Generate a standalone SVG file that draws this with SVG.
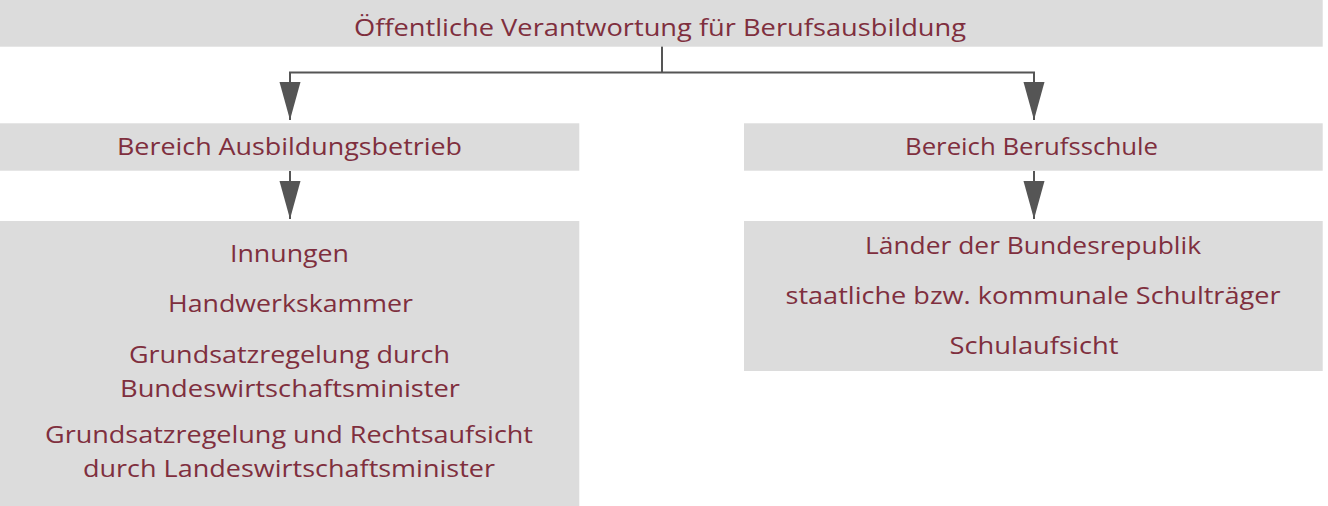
<svg xmlns="http://www.w3.org/2000/svg" width="1328" height="506" viewBox="0 0 1328 506">
<style>
.box{fill:#dcdcdc}
.t{font-family:"Open Sans","Liberation Sans",sans-serif;font-size:24.5px;fill:#7f2f3e;text-anchor:middle}
.c{fill:none;stroke:#555555;stroke-width:2}
</style>
<defs>
<marker id="ah" markerUnits="userSpaceOnUse" markerWidth="40" markerHeight="22" refX="38" refY="10.5" orient="auto">
<path d="M0,0 L38,10.5 L0,21 z" fill="#555555"/>
</marker>
</defs>
<rect width="1328" height="506" fill="#ffffff"/>
<g id="connectors">
<path class="c" d="M662,46 V72.5"/>
<path class="c" d="M662,72.5 H290 V120" marker-end="url(#ah)"/>
<path class="c" d="M662,72.5 H1034 V120" marker-end="url(#ah)"/>
<path class="c" d="M290,171 V219" marker-end="url(#ah)"/>
<path class="c" d="M1034,171 V219" marker-end="url(#ah)"/>
</g>
<g id="node-top">
<rect class="box" x="0" y="0" width="1322.7" height="46.7"/>
<text class="t" x="660" y="36" textLength="612" lengthAdjust="spacingAndGlyphs">Öffentliche Verantwortung für Berufsausbildung</text>
</g>
<g id="node-betrieb">
<rect class="box" x="0" y="123.3" width="579.3" height="47.4"/>
<text class="t" x="289.5" y="155" textLength="345" lengthAdjust="spacingAndGlyphs">Bereich Ausbildungsbetrieb</text>
</g>
<g id="node-schule">
<rect class="box" x="744" y="123.3" width="578.7" height="47.4"/>
<text class="t" x="1031.5" y="155" textLength="253" lengthAdjust="spacingAndGlyphs">Bereich Berufsschule</text>
</g>
<g id="node-betrieb-detail">
<rect class="box" x="0" y="221" width="579.3" height="285"/>
<text class="t" x="289.5" y="262" textLength="119" lengthAdjust="spacingAndGlyphs">Innungen</text>
<text class="t" x="290.5" y="312" textLength="245" lengthAdjust="spacingAndGlyphs">Handwerkskammer</text>
<text class="t" x="289.5" y="363" textLength="321" lengthAdjust="spacingAndGlyphs">Grundsatzregelung durch</text>
<text class="t" x="290" y="397" textLength="340" lengthAdjust="spacingAndGlyphs">Bundeswirtschaftsminister</text>
<text class="t" x="289" y="443" textLength="488" lengthAdjust="spacingAndGlyphs">Grundsatzregelung und Rechtsaufsicht</text>
<text class="t" x="289" y="477" textLength="412" lengthAdjust="spacingAndGlyphs">durch Landeswirtschaftsminister</text>
</g>
<g id="node-schule-detail">
<rect class="box" x="744" y="221" width="578.7" height="150"/>
<text class="t" x="1033" y="254" textLength="336" lengthAdjust="spacingAndGlyphs">Länder der Bundesrepublik</text>
<text class="t" x="1033" y="304" textLength="495" lengthAdjust="spacingAndGlyphs">staatliche bzw. kommunale Schulträger</text>
<text class="t" x="1034" y="354" textLength="169" lengthAdjust="spacingAndGlyphs">Schulaufsicht</text>
</g>
</svg>
